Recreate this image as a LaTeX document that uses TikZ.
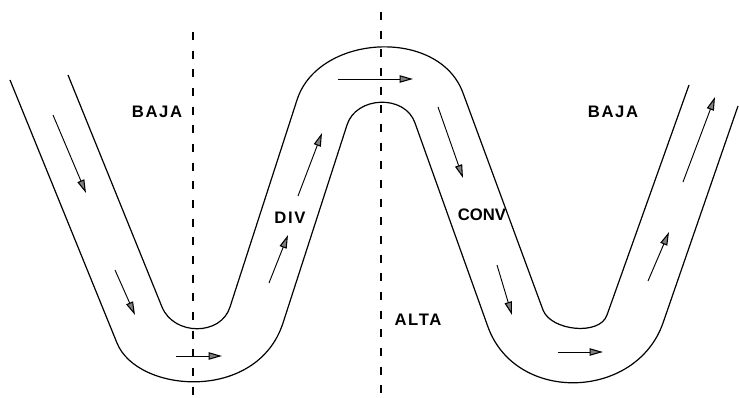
\documentclass[tikz,border=0pt]{standalone}
\usepackage{fontspec}
\setsansfont{Liberation Sans}
\newfontfamily\lblfont[LetterSpace=10]{Liberation Sans}
\usetikzlibrary{arrows.meta}
\tikzset{
  fx/.style={x=0.75pt, y=-0.75pt},
  c bank/.style={line width=0.9pt, line join=round},
  c axis/.style={line width=1pt, dash pattern=on 6pt off 8pt},
  c flow/.style={line width=0.7pt, -{Triangle[length=10pt, width=5.5pt, fill=gray, line width=0.8pt]}},
  c lbl/.style={font=\lblfont\bfseries\fontsize{12.5}{14}\selectfont, inner sep=0pt},
  c lbl tight/.style={font=\sffamily\bfseries\fontsize{12.5}{14}\selectfont, inner sep=0pt},
}
\begin{document}
\begin{tikzpicture}[fx]
\useasboundingbox (0,0) rectangle (739,398);
% channel banks
\draw[c bank] (68,75) -- (162,307) .. controls (174,336) and (221,336) .. (230,307) -- (297,100) .. controls (318,34) and (439,27) .. (463,93) -- (543,310) .. controls (551,331) and (600,336) .. (607,315) -- (689,85);
\draw[c bank] (10,80) -- (117,343) .. controls (137,393) and (257,403) .. (283,323) -- (347,125) .. controls (356,96) and (405,94) .. (415,123) -- (488,327) .. controls (516,404) and (636,400) .. (663,323) -- (738,106);
% axes
\draw[c axis] (193,32) -- (193,398);
\draw[c axis] (381,12) -- (381,398);
% flow
\draw[c flow] (53,115) -- (86,193);
\draw[c flow] (115,270) -- (135,315);
\draw[c flow] (176,356) -- (222,356);
\draw[c flow] (269,283) -- (288,235);
\draw[c flow] (298,196) -- (322,133);
\draw[c flow] (338,79) -- (413,79);
\draw[c flow] (438,107) -- (463,178);
\draw[c flow] (497,265) -- (512,315);
\draw[c flow] (558,352) -- (603,352);
\draw[c flow] (648,281) -- (669,232);
\draw[c flow] (683,182) -- (715,97);
% labels
\node[c lbl] (bajaL) at (157,112) {BAJA};
\node[c lbl] (bajaR) at (613,112) {BAJA};
\node[c lbl] (div) at (290,218) {DIV};
\node[c lbl tight] (conv) at (482,215) {CONV};
\node[c lbl] (alta) at (418,320) {ALTA};
\end{tikzpicture}
\end{document}
